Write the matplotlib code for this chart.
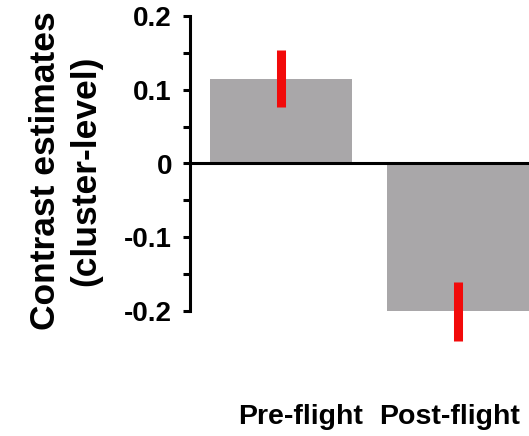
import numpy as np
import matplotlib
matplotlib.use("Agg")
import matplotlib.pyplot as plt
from matplotlib.ticker import MultipleLocator

# data
groups = ["Pre-flight", "Post-flight"]
estimates = [0.115, -0.201]
errors = [0.039, 0.040]
label_pos = [0.11, 0.95]   # group labels sit a bit off the bar centres

plt.rcParams['font.family'] = ['Liberation Sans', 'DejaVu Sans']
plt.rcParams['font.weight'] = 'bold'

fig = plt.figure(figsize=(5.29, 4.36), dpi=100)
ax = fig.add_axes([190/529, 125/436, 1 - 190/529, 295/436])

x = np.arange(len(groups))
ax.bar(x, estimates, width=0.80, color='#a9a7a9', zorder=1)
for xi, v, e in zip(x, estimates, errors):
    ax.plot([xi, xi], [v - e, v + e], color='#f20a0a', lw=6.5,
            solid_capstyle='butt', clip_on=False, zorder=3)

ax.axhline(0, color='black', lw=2.2, zorder=2, clip_on=False)

ax.set_xlim(-0.514, 1.40)
ax.set_ylim(-0.2, 0.2)

for s in ['top', 'right', 'bottom']:
    ax.spines[s].set_visible(False)
ax.spines['left'].set_linewidth(2.2)

ax.yaxis.set_major_locator(MultipleLocator(0.1))
ax.yaxis.set_minor_locator(MultipleLocator(0.05))
ax.set_yticks([-0.2, -0.1, 0, 0.1, 0.2])
ax.set_yticklabels(['-0.2', '-0.1', '0', '0.1', '0.2'])
ax.tick_params(axis='y', which='both', direction='out', length=5, width=2.2,
               labelsize=20, pad=8)

ax.set_xticks(label_pos)
ax.set_xticklabels(groups, fontsize=20.5, fontweight='bold')
ax.tick_params(axis='x', length=0, pad=67)

ax.set_ylabel("Contrast estimates\n(cluster-level)", fontsize=25.5,
              fontweight='bold', linespacing=1.25)
ax.yaxis.set_label_coords(-0.26, 0.476)

fig.savefig("out.png", dpi=100)
